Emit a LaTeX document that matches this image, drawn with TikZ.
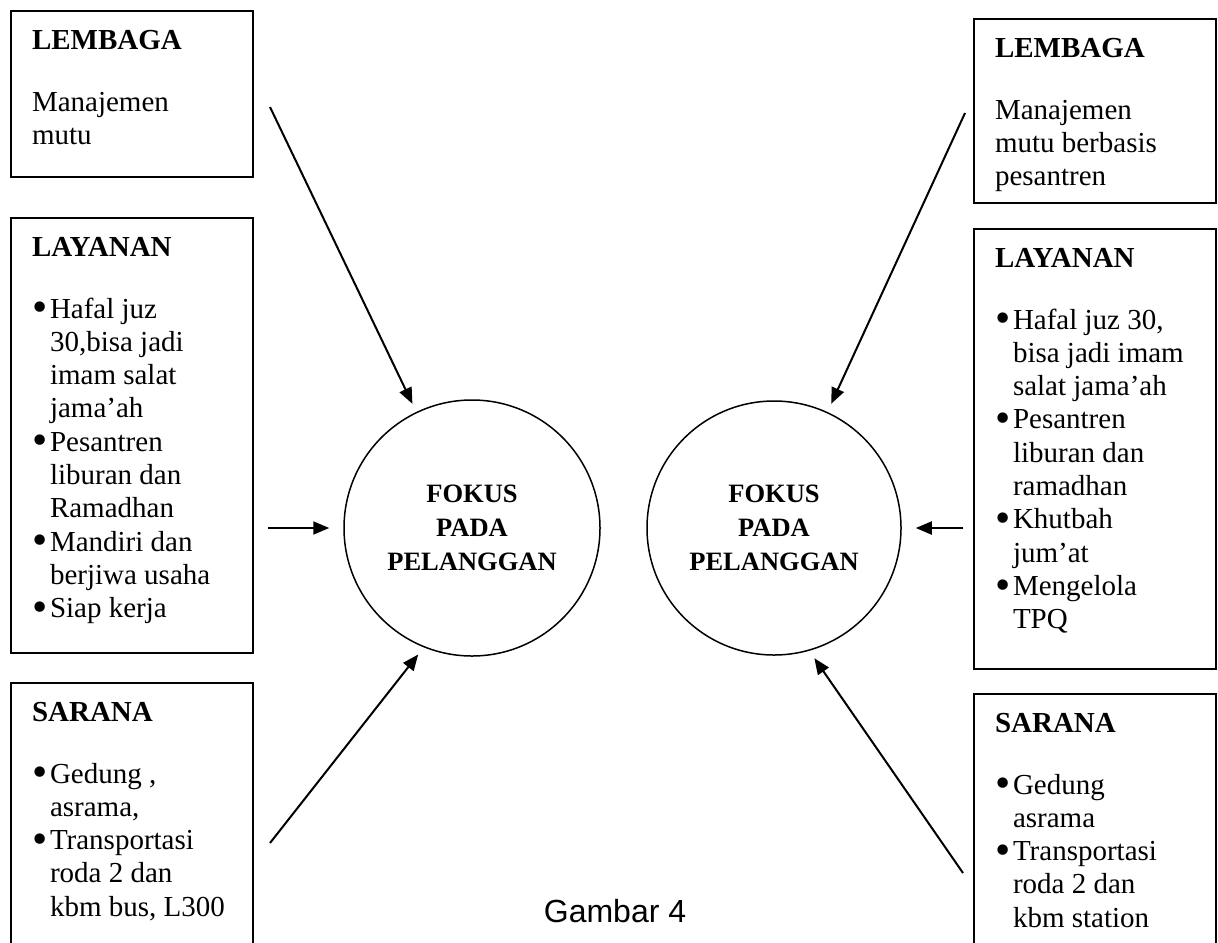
\documentclass[tikz,border=0pt]{standalone}
\usepackage{fontspec}
\setmainfont{Liberation Serif}
\newfontfamily\arialfont{Liberation Sans}
\usetikzlibrary{shapes.geometric, arrows.meta, positioning}

\newlength{\px}
\setlength{\px}{0.5pt}

\tikzstyle{kotak} = [rectangle, draw=black, line width=1pt, anchor=north west,
                     inner sep=0pt, font=\fontsize{14.5pt}{16.65pt}\selectfont]
\tikzstyle{bulat} = [circle, draw=black, line width=0.75pt, minimum size=128pt,
                     inner sep=0pt, align=center,
                     font=\bfseries\fontsize{13.25pt}{17pt}\selectfont]
\tikzstyle{panah} = [line width=1pt, -{Triangle[length=8pt, width=6.5pt]},
                     shorten >=4.5pt]

\newcommand{\isikotak}[2]{\parbox[t][#1\px][t]{242\px}{\leftskip=21\px
  \rightskip=0pt plus 1fil\parindent=0pt\relax #2}}
\newcommand{\judul}[1]{\rule{0pt}{38\px}\textbf{#1}\par\vspace{28.7\px}}
\newcommand{\butir}[1]{\noindent\hangindent=18\px\hangafter=1%
  \makebox[18\px][l]{\raisebox{-0.13em}{\scalebox{1.5}{\textbullet}}}#1\par}

\begin{document}
\begin{tikzpicture}[x=0.5pt, y=-0.5pt]
  \useasboundingbox (0,0) rectangle (1218,942);

  % Left column
  \node[kotak] (lembagaL) at (10,10)
        {\isikotak{166}{\judul{LEMBAGA}Manajemen\\mutu}};
  \node[kotak, below=19.5pt of lembagaL] (layananL)
        {\isikotak{435}{\judul{LAYANAN}%
          \butir{Hafal juz\\30,bisa jadi\\imam salat\\jama’ah}%
          \butir{Pesantren\\liburan dan\\Ramadhan}%
          \butir{Mandiri dan\\berjiwa usaha}%
          \butir{Siap kerja}}};
  \node[kotak, below=14pt of layananL] (saranaL)
        {\isikotak{266}{\judul{SARANA}%
          \butir{Gedung ,\\asrama,}%
          \butir{Transportasi\\roda 2 dan\\kbm bus, L300}}};

  % Right column
  \node[kotak] (lembagaR) at (973,18)
        {\isikotak{184}{\judul{LEMBAGA}Manajemen\\mutu berbasis\\pesantren}};
  \node[kotak, below=12pt of lembagaR] (layananR)
        {\isikotak{440}{\judul{LAYANAN}%
          \butir{Hafal juz 30,\\bisa jadi imam\\salat jama’ah}%
          \butir{Pesantren\\liburan dan\\ramadhan}%
          \butir{Khutbah\\jum’at}%
          \butir{Mengelola\\TPQ}}};
  \node[kotak, below=11.5pt of layananR] (saranaR)
        {\isikotak{258}{\judul{SARANA}%
          \butir{Gedung\\asrama}%
          \butir{Transportasi\\roda 2 dan\\kbm station}}};

  % Circles
  \node[bulat] (fokusL) at (472,528) {FOKUS\\PADA\\PELANGGAN};
  \node[bulat, minimum size=127pt, right=22.75pt of fokusL] (fokusR)
        {FOKUS\\PADA\\PELANGGAN};

  % Arrows
  \coordinate (awalL1) at (270,107);
  \coordinate (awalL2) at (268,528);
  \coordinate (awalL3) at (270,843);
  \coordinate (awalR1) at (965,113);
  \coordinate (awalR2) at (963,528);
  \coordinate (awalR3) at (963,873);

  \draw[panah] (awalL1) -- (fokusL);
  \draw[panah, shorten >=7pt] (awalL2) -- (fokusL);
  \draw[panah] (awalL3) -- (fokusL.248);
  \draw[panah] (awalR1) -- (fokusR);
  \draw[panah, shorten >=7pt] (awalR2) -- (fokusR);
  \draw[panah] (awalR3) -- (fokusR.286);

  % Caption
  \node[font=\arialfont\fontsize{16pt}{19pt}\selectfont, anchor=base]
        (gambar) at (615,922) {Gambar 4};

\end{tikzpicture}
\end{document}
